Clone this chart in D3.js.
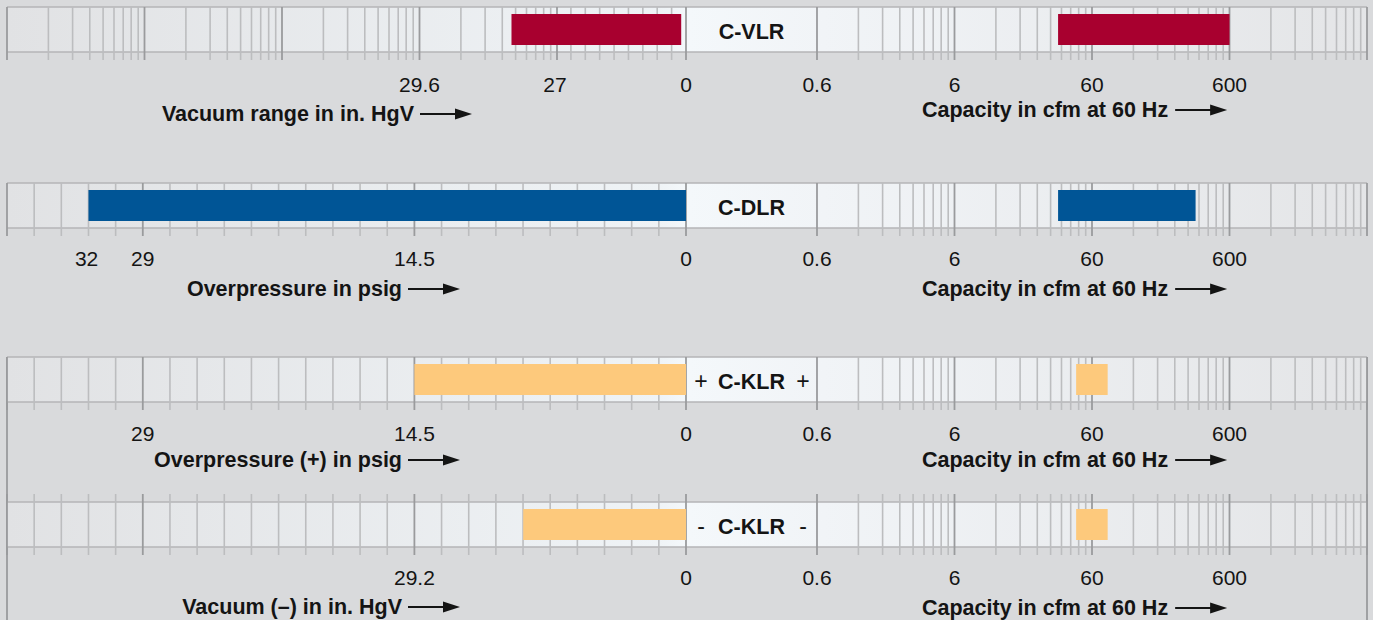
<!DOCTYPE HTML>
<html>
	<head>
		<meta charset="utf-8">
		<script src="https://d3js.org/d3.v7.min.js"></script>
		<style>
			body { margin: 0; background: #d9dadc; }
			svg { display: block; font-family: 'Liberation Sans', Arial, sans-serif; }
			.minor { stroke: #bcbdbf; stroke-width: 1.6px; }
			.major { stroke: #9a9b9d; stroke-width: 1.8px; }
			.edge { stroke: #b4b5b7; stroke-width: 1.5px; }
			.tickLabel { font-size: 21px; fill: #141414; text-anchor: middle; }
			.title { font-size: 21.5px; font-weight: bold; fill: #141414; }
			.name { font-size: 21.5px; font-weight: bold; fill: #141414; text-anchor: middle; }
			.sign { font-size: 23px; fill: #141414; text-anchor: middle; }
		</style>
	</head>
	<body>
		<svg width="1373" height="620"></svg>

		<script>

		// Data, one entry per product band

		var productNames = ["C-VLR", "C-DLR", "C-KLR", "C-KLR"];
		var productSigns = ["", "", "+", "-"];
		var pressureKinds = ["vacuumAbs", "psig", "psig", "vacuum"];
		var pressureFrom = [28.5, 31.9, 14.5, 17.5];
		var pressureTo = [1, 0, 0, 0];
		var capacityFrom = [34, 34, 46, 46];
		var capacityTo = [600, 340, 78, 78];
		var barColors = ["#a8002f", "#005596", "#fdc97c", "#fdc97c"];

		var pressureLabels = [[29.6, 27, 0], [32, 29, 14.5, 0], [29, 14.5, 0], [29.2, 0]];
		var capacityLabels = [0.6, 6, 60, 600];
		var pressureTitles = ["Vacuum range in in. HgV", "Overpressure in psig", "Overpressure (+) in psig", "Vacuum (\u2013) in in. HgV"];
		var capacityTitle = "Capacity in cfm at 60 Hz";

		// Layout

		var stripTops = [7, 183, 357, 502];
		var stripHeight = 45;
		var labelY = [92, 266, 441, 585];
		var leftTitleY = [121, 296, 467, 614];
		var rightTitleY = [117, 296, 467, 615];
		var arrowTips = [472, 460, 460, 460];

		var xLeft = 7, xZero = 686, xCap0 = 817, xRight = 1367;
		var decade = (xRight - xCap0) / 4;

		// Scales

		var capacity = d3.scaleLog().domain([0.6, 6000]).range([xCap0, xRight]);
		var psig = d3.scaleLinear().domain([36.25, 0]).range([xLeft, xZero]);
		var inHg = d3.scaleLinear().domain([73, 0]).range([xLeft, xZero]);

		// vacuum for C-VLR: log in absolute pressure, linear above 3 in. Hg abs
		var atm = 29.9;
		var absLog = d3.scaleLog().domain([0.0003, 3]).range([xLeft, xLeft + 4 * decade]);
		var absLin = d3.scaleLinear().domain([3, atm]).range([xLeft + 4 * decade, xZero]);
		function vacuumAbs(v) {
			var abs = atm - v;
			return abs < 3 ? absLog(abs) : absLin(abs);
		}

		var pressureScales = { vacuumAbs: vacuumAbs, psig: psig, vacuum: inHg };

		function pressureTicks(kind) {
			var t = [];
			if (kind == "vacuumAbs") {
				[0.0003, 0.003, 0.03, 0.3].forEach(function(d) {
					d3.range(1, 10).forEach(function(k) { t.push({ x: absLog(d * k), major: k == 1 }); });
				});
				t.push({ x: absLog(3), major: true });
				d3.range(3, 27, 3).forEach(function(v) { t.push({ x: vacuumAbs(v), major: false }); });
			} else {
				var s = pressureScales[kind];
				var step = s.domain()[0] / 25;
				d3.range(1, 26).forEach(function(i) { t.push({ x: s(i * step), major: i % 10 == 0 || i == 25 }); });
			}
			t.push({ x: xZero, major: true });
			return t;
		}

		var capacityTicks = [];
		[0.6, 6, 60, 600].forEach(function(d) {
			d3.range(1, 10).forEach(function(k) { capacityTicks.push({ x: capacity(d * k), major: k == 1 }); });
		});
		capacityTicks.push({ x: capacity(6000), major: true });

		var svg = d3.select("svg");

		var grad = svg.append("defs").append("linearGradient")
				.attr("id", "stripFill")
				.attr("gradientUnits", "userSpaceOnUse")
				.attr("x1", xLeft).attr("x2", xRight).attr("y1", 0).attr("y2", 0);
		[[0, "#e1e2e4"], [0.48, "#eff3f6"], [0.5, "#f4f8fb"], [0.6, "#f1f4f7"], [1, "#e4e5e7"]].forEach(function(s) {
			grad.append("stop").attr("offset", s[0]).attr("stop-color", s[1]);
		});

		// frame joining the two C-KLR bands
		[xLeft, xRight].forEach(function(x) {
			svg.append("line").attr("class", "major")
				.attr("x1", x).attr("x2", x)
				.attr("y1", stripTops[2]).attr("y2", 620);
		});

		productNames.forEach(function(name, i) {
			var top = stripTops[i];
			var bottom = top + stripHeight;
			var g = svg.append("g");
			var px = pressureScales[pressureKinds[i]];

			g.append("rect")
				.attr("x", xLeft).attr("y", top)
				.attr("width", xRight - xLeft).attr("height", stripHeight)
				.attr("fill", "url(#stripFill)");

			[top, bottom].forEach(function(y) {
				g.append("line").attr("class", "edge")
					.attr("x1", xLeft).attr("x2", xRight).attr("y1", y).attr("y2", y);
			});

			var ticks = pressureTicks(pressureKinds[i]).concat(capacityTicks);
			g.selectAll(".tick").data(ticks).enter().append("line")
				.attr("class", function(d) { return d.major ? "major" : "minor"; })
				.attr("x1", function(d) { return d.x; })
				.attr("x2", function(d) { return d.x; })
				.attr("y1", i == 3 ? top - 8 : top)
				.attr("y2", bottom + 8);

			// bars
			g.append("rect")
				.attr("x", px(pressureFrom[i]))
				.attr("width", px(pressureTo[i]) - px(pressureFrom[i]))
				.attr("y", top + 7).attr("height", 31)
				.attr("fill", barColors[i]);
			g.append("rect")
				.attr("x", capacity(capacityFrom[i]))
				.attr("width", capacity(capacityTo[i]) - capacity(capacityFrom[i]))
				.attr("y", top + 7).attr("height", 31)
				.attr("fill", barColors[i]);

			// product name
			g.append("text").attr("class", "name")
				.attr("x", (xZero + xCap0) / 2).attr("y", top + 32)
				.text(name);
			if (productSigns[i]) {
				[xZero + 15, xCap0 - 14].forEach(function(x) {
					g.append("text").attr("class", "sign")
						.attr("x", x).attr("y", top + 32)
						.text(productSigns[i]);
				});
			}

			// tick labels
			g.selectAll(".pl").data(pressureLabels[i]).enter().append("text")
				.attr("class", "tickLabel")
				.attr("x", function(d) { return px(d); })
				.attr("y", labelY[i])
				.text(function(d) { return d; });
			g.selectAll(".cl").data(capacityLabels).enter().append("text")
				.attr("class", "tickLabel")
				.attr("x", function(d) { return capacity(d); })
				.attr("y", labelY[i])
				.text(function(d) { return d; });

			// axis titles with arrows
			var tip = arrowTips[i];
			g.append("text").attr("class", "title")
				.attr("text-anchor", "end")
				.attr("x", tip - 58).attr("y", leftTitleY[i])
				.text(pressureTitles[i]);
			arrow(g, tip - 52, tip, leftTitleY[i] - 7);

			var rt = g.append("text").attr("class", "title")
				.attr("x", 922).attr("y", rightTitleY[i])
				.text(capacityTitle);
			var end = 922 + rt.node().getComputedTextLength();
			arrow(g, end + 7, end + 59, rightTitleY[i] - 7);
		});

		function arrow(g, x1, x2, y) {
			g.append("line")
				.attr("x1", x1).attr("x2", x2 - 12)
				.attr("y1", y).attr("y2", y)
				.attr("stroke", "#141414").attr("stroke-width", 2);
			g.append("path")
				.attr("d", "M" + x2 + "," + y + "L" + (x2 - 17) + "," + (y - 5.5) + "L" + (x2 - 17) + "," + (y + 5.5) + "Z")
				.attr("fill", "#141414");
		}

		</script>
	</body>
</html>
